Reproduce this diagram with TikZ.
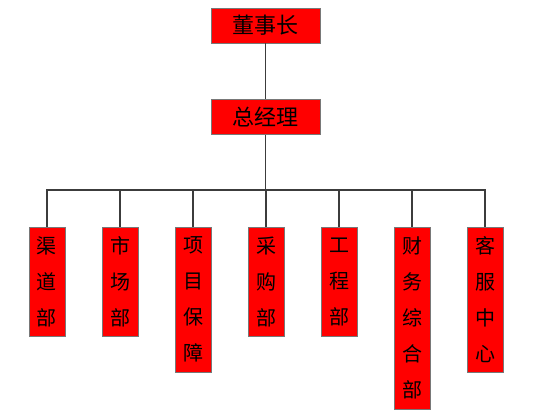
\documentclass[tikz,border=0pt]{standalone}
\usepackage{fontspec}
\newfontfamily\cjk{Noto Sans CJK SC}
\definecolor{boxred}{RGB}{255,0,0}
\definecolor{edgegray}{RGB}{120,120,120}
\definecolor{linegray}{RGB}{60,60,60}
\usetikzlibrary{positioning}

\begin{document}
\begin{tikzpicture}[x=1pt, y=-1pt,
  topbox/.style={draw=edgegray, fill=boxred, minimum width=109pt,
                 minimum height=35pt, inner sep=0pt,
                 font=\cjk\fontsize{22}{22}\selectfont},
  deptbox/.style={draw=edgegray, fill=boxred, minimum width=36pt,
                  text width=36pt, align=center, inner sep=0pt, anchor=north,
                  font=\cjk\fontsize{20}{36}\selectfont},
  wire/.style={draw=linegray, line width=1.1pt}]
  \useasboundingbox (0,0) rectangle (558,416);
  % top levels
  \node[topbox] (chairman) at (265.5,25.5) {董事长};
  \node[topbox] (manager) at (265.5,117) {总经理};
  % departments
  \node[deptbox, minimum height=109pt] (qudao) at (47,227) {渠\\道\\部};
  \node[deptbox, minimum height=109pt] (shichang) at (120,227) {市\\场\\部};
  \node[deptbox, minimum height=145pt] (xiangmu) at (193,227) {项\\目\\保\\障};
  \node[deptbox, minimum height=109pt] (caigou) at (266,227) {采\\购\\部};
  \node[deptbox, minimum height=109pt] (gongcheng) at (339,227) {工\\程\\部};
  \node[deptbox, minimum height=182pt] (caiwu) at (412,227) {财\\务\\综\\合\\部};
  \node[deptbox, minimum height=145pt] (kefu) at (485,227) {客\\服\\中\\心};
  \coordinate (bus) at (265.5,190);
  % connectors
  \draw[wire] (chairman) -- (manager);
  \draw[wire] (manager) -- (bus);
  \draw[wire] (qudao.north) -- (qudao.north |- bus) -- (kefu.north |- bus) -- (kefu.north);
  \foreach \d in {shichang, xiangmu, caigou, gongcheng, caiwu}
    \draw[wire] (\d.north) -- (\d.north |- bus);
\end{tikzpicture}
\end{document}
